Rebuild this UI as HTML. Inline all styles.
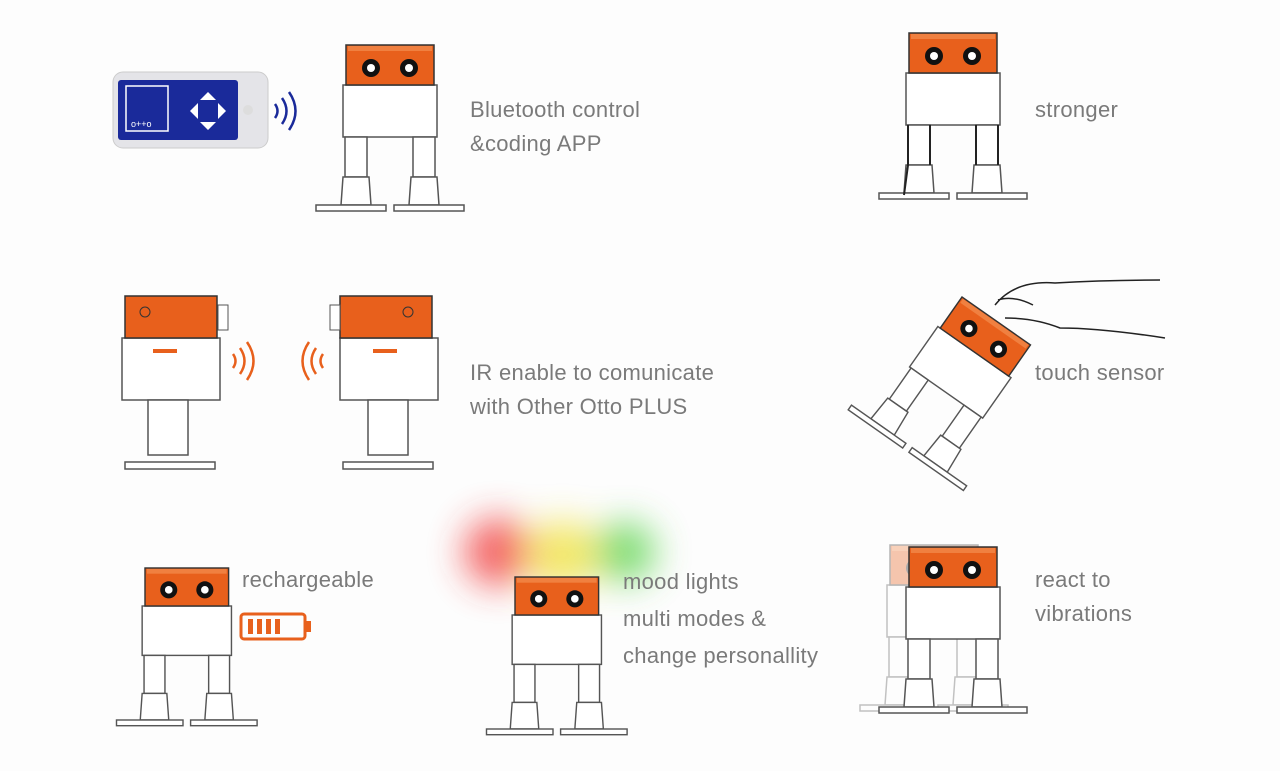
<!DOCTYPE html>
<html><head><meta charset="utf-8"><style>
html,body{margin:0;padding:0;background:#fdfdfd;}
.w{position:relative;width:1280px;height:771px;overflow:hidden;}
.t{position:absolute;font-family:"Liberation Sans",sans-serif;font-size:22px;color:#7a7a7a;line-height:34px;letter-spacing:0.3px;}
svg{position:absolute;left:0;top:0;}
</style></head><body><div class="w">
<svg width="1280" height="771" viewBox="0 0 1280 771">
<defs>
<filter id="bl" x="-80%" y="-80%" width="260%" height="260%"><feGaussianBlur stdDeviation="18"/></filter>
<g id="rob">
  <rect x="-3" y="40" width="94" height="52" fill="#fff" stroke="#555" stroke-width="1.5"/>
  <rect x="0" y="0" width="88" height="40" fill="#e8601c" stroke="#333" stroke-width="1.5"/>
  <rect x="2" y="1" width="84" height="5" fill="#f08040"/>
  <circle cx="25" cy="23" r="9" fill="#111"/><circle cx="25" cy="23" r="4" fill="#fff"/>
  <circle cx="63" cy="23" r="9" fill="#111"/><circle cx="63" cy="23" r="4" fill="#fff"/>
  <rect x="-1" y="92" width="22" height="40" fill="#fff" stroke="#555" stroke-width="1.5"/>
  <rect x="67" y="92" width="22" height="40" fill="#fff" stroke="#555" stroke-width="1.5"/>
  <polygon points="-3,132 23,132 25,160 -5,160" fill="#fff" stroke="#555" stroke-width="1.5"/>
  <polygon points="65,132 91,132 93,160 63,160" fill="#fff" stroke="#555" stroke-width="1.5"/>
  <rect x="-30" y="160" width="70" height="6" fill="#fff" stroke="#555" stroke-width="1.5"/>
  <rect x="48" y="160" width="70" height="6" fill="#fff" stroke="#555" stroke-width="1.5"/>
</g>
</defs>
<!-- phone -->
<rect x="113" y="72" width="155" height="76" rx="10" fill="#e4e4e8" stroke="#ccc"/>
<rect x="118" y="80" width="120" height="60" rx="3" fill="#1a2a9a"/>
<rect x="126" y="86" width="42" height="45" fill="none" stroke="#fff" stroke-width="1.5"/>
<text x="131" y="127" font-family="Liberation Sans" font-size="9" fill="#fff">o++o</text>
<path d="M200 100 l8 -8 l8 8z M200 122 l8 8 l8 -8z M190 111 l8 -8 v16z M226 111 l-8 -8 v16z" fill="#fff"/>
<circle cx="248" cy="110" r="5" fill="#ddd"/>
<g fill="none" stroke="#1a2a9a" stroke-width="2.5">
<path d="M275 104 q5 7 0 14"/><path d="M282 98 q9 13 0 26"/><path d="M289 92 q13 19 0 38"/></g>
<!-- lights -->
<g filter="url(#bl)" opacity="0.75">
<circle cx="498" cy="552" r="34" fill="#f03030"/>
<circle cx="563" cy="555" r="34" fill="#f0e030"/>
<circle cx="625" cy="552" r="30" fill="#50d040"/></g>
<!-- robots -->
<use href="#rob" transform="translate(346,45)"/>
<g>
<use href="#rob" transform="translate(909,33)"/>
<g fill="none" stroke="#222" stroke-width="2">
<path d="M908 125 l0 40 l-4 30 M930 125 l0 40 M976 125 l0 40 M998 125 l0 40"/></g>
</g>
<use href="#rob" transform="translate(145,568) scale(0.95)"/>
<use href="#rob" transform="translate(515,577) scale(0.95)"/>
<use href="#rob" transform="translate(890,545)" opacity="0.35"/>
<use href="#rob" transform="translate(909,547)"/>
<use href="#rob" transform="translate(962,297) rotate(35) scale(0.95)"/>
<!-- IR robots -->
<g>
<rect x="122" y="338" width="98" height="62" fill="#fff" stroke="#555" stroke-width="1.5"/>
<rect x="125" y="296" width="92" height="42" fill="#e8601c" stroke="#333" stroke-width="1.5"/>
<rect x="218" y="305" width="10" height="25" fill="#fff" stroke="#555"/>
<rect x="153" y="349" width="24" height="4" fill="#e8601c"/>
<circle cx="145" cy="312" r="5" fill="none" stroke="#333"/>
<rect x="148" y="400" width="40" height="55" fill="#fff" stroke="#555" stroke-width="1.5"/>
<rect x="125" y="462" width="90" height="7" fill="#fff" stroke="#555" stroke-width="1.5"/>
<rect x="340" y="338" width="98" height="62" fill="#fff" stroke="#555" stroke-width="1.5"/>
<rect x="340" y="296" width="92" height="42" fill="#e8601c" stroke="#333" stroke-width="1.5"/>
<rect x="330" y="305" width="10" height="25" fill="#fff" stroke="#555"/>
<rect x="373" y="349" width="24" height="4" fill="#e8601c"/>
<circle cx="408" cy="312" r="5" fill="none" stroke="#333"/>
<rect x="368" y="400" width="40" height="55" fill="#fff" stroke="#555" stroke-width="1.5"/>
<rect x="343" y="462" width="90" height="7" fill="#fff" stroke="#555" stroke-width="1.5"/>
</g>
<g fill="none" stroke="#e8601c" stroke-width="2.5">
<path d="M233 354 q5 7 0 14"/><path d="M240 348 q9 13 0 26"/><path d="M247 342 q13 19 0 38"/>
<path d="M323 354 q-5 7 0 14"/><path d="M316 348 q-9 13 0 26"/><path d="M309 342 q-13 19 0 38"/></g>
<!-- hand -->
<path d="M995 305 q20 -25 60 -22 q50 -3 105 -3 M1005 318 q30 0 55 10 q40 0 105 10 M998 300 q15 -5 35 5" fill="none" stroke="#222" stroke-width="1.5"/>
<!-- battery -->
<rect x="241" y="614" width="64" height="25" rx="3" fill="none" stroke="#e8601c" stroke-width="3"/>
<rect x="305" y="621" width="6" height="11" fill="#e8601c"/>
<g fill="#e8601c"><rect x="248" y="619" width="5" height="15"/><rect x="257" y="619" width="5" height="15"/><rect x="266" y="619" width="5" height="15"/><rect x="275" y="619" width="5" height="15"/></g>
</svg>
<div class="t" style="left:470px;top:93px">Bluetooth control<br>&amp;coding APP</div>
<div class="t" style="left:1035px;top:93px">stronger</div>
<div class="t" style="left:470px;top:356px">IR enable to comunicate<br>with Other Otto PLUS</div>
<div class="t" style="left:1035px;top:356px">touch sensor</div>
<div class="t" style="left:242px;top:563px">rechargeable</div>
<div class="t" style="left:623px;top:563px;line-height:37px">mood lights<br>multi modes &amp;<br>change personallity</div>
<div class="t" style="left:1035px;top:563px">react to<br>vibrations</div>
</div></body></html>
